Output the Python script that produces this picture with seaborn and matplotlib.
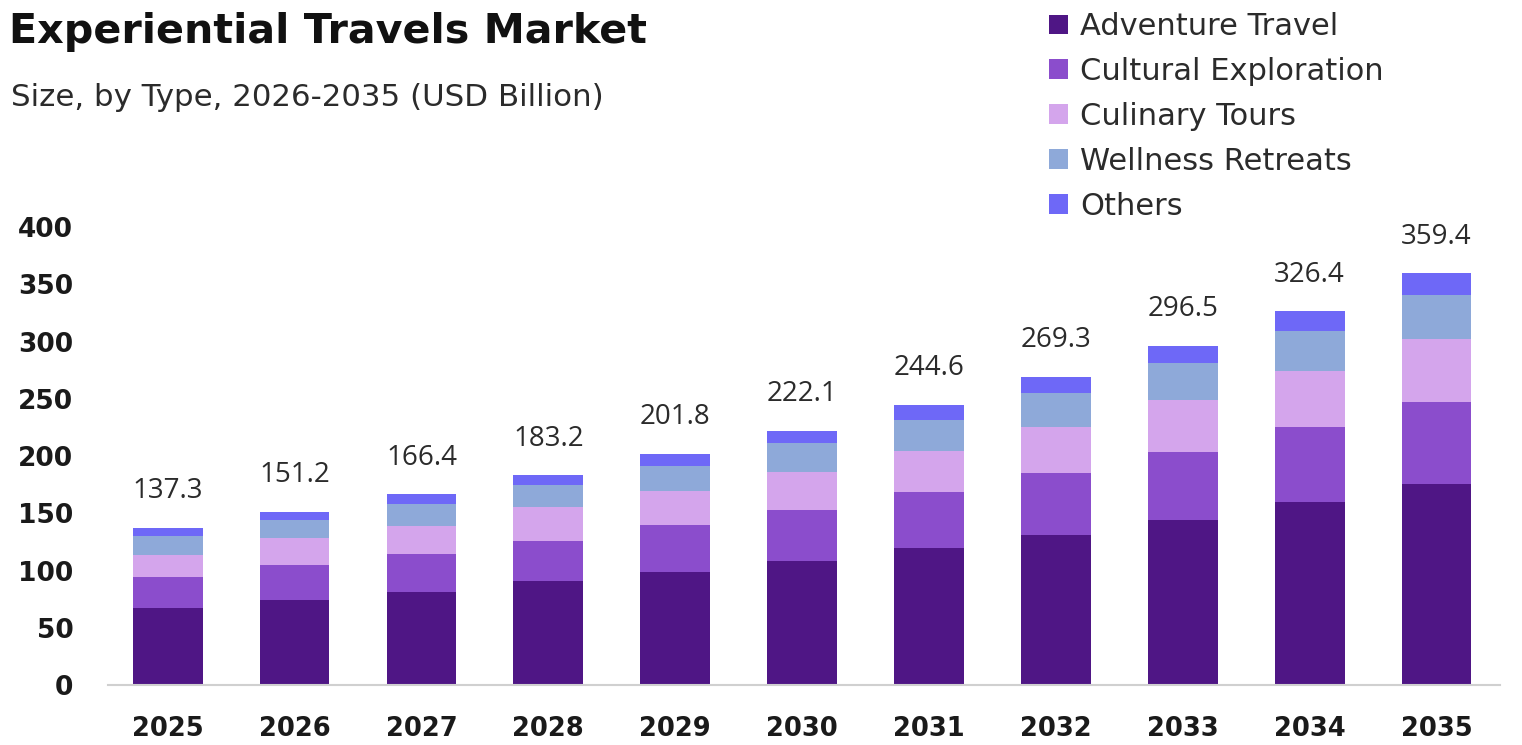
import matplotlib
matplotlib.use("Agg")
import matplotlib.pyplot as plt
from matplotlib.patches import Patch
import numpy as np
import pandas as pd
import seaborn as sns

# Market size by type (USD Billion)
years = ["2025", "2026", "2027", "2028", "2029", "2030",
         "2031", "2032", "2033", "2034", "2035"]
adventure_travel = [67.5, 74.0, 81.1, 90.5, 98.9, 108.4, 119.4, 130.9, 144.4, 160.0, 175.3]
cultural_exploration = [26.7, 30.8, 33.1, 35.3, 40.5, 44.6, 49.4, 54.3, 59.2, 65.4, 71.6]
culinary_tours = [19.6, 23.5, 24.9, 29.4, 29.9, 33.1, 35.7, 39.9, 44.9, 48.5, 55.0]
wellness_retreats = [16.7, 15.5, 19.1, 19.1, 22.3, 24.9, 27.1, 30.1, 33.0, 35.6, 38.6]
others = [6.8, 7.4, 8.2, 8.9, 10.2, 11.1, 13.0, 14.1, 15.0, 16.9, 18.9]

segments = ["Adventure Travel", "Cultural Exploration", "Culinary Tours",
            "Wellness Retreats", "Others"]
series = [adventure_travel, cultural_exploration, culinary_tours,
          wellness_retreats, others]
colors = ["#4f1685", "#8b4dcc", "#d4a5ec", "#8ea9d9", "#6e68f7"]
y_ticks = [0, 50, 100, 150, 200, 250, 300, 350, 400]

sns.set_theme(style="white")
plt.rcParams["font.family"] = ["DejaVu Sans"]

fig = plt.figure(figsize=(15.22, 7.45), dpi=100)
ax = fig.add_axes([0.071, 0.0805, 0.9145, 0.6148])

# Stacked bars: draw cumulative layers from the tallest down
df = pd.DataFrame({"year": years})
cum = np.zeros(len(years))
layers = []
for name, vals in zip(segments, series):
    cum = cum + np.array(vals)
    layers.append((name, cum.copy()))

for (name, top), col in reversed(list(zip(layers, colors))):
    d = df.assign(value=top)
    sns.barplot(data=d, x="year", y="value", color=col, width=0.55,
                saturation=1, ax=ax, linewidth=0, errorbar=None)

totals = layers[-1][1]
for i, t in enumerate(totals):
    ax.text(i, t + 32, f"{t:.1f}", ha="center", va="center",
            fontsize=20, color="#2b2b2b", family="Open Sans")

ax.set_xlim(-0.47, 10.5)
ax.set_ylim(0, 400)
ax.set_yticks(y_ticks)
ax.set_yticklabels([str(v) for v in y_ticks], fontsize=19, fontweight="bold",
                   color="#1a1a1a")
ax.tick_params(axis="y", length=0, pad=25)
ax.tick_params(axis="x", length=0, pad=22, labelsize=18.5, labelcolor="#1a1a1a")
for lbl in ax.get_xticklabels():
    lbl.set_fontweight("bold")
ax.set_xlabel("")
ax.set_ylabel("")
for s in ["top", "right", "left"]:
    ax.spines[s].set_visible(False)
ax.spines["bottom"].set_color("#d0d0d0")
ax.spines["bottom"].set_linewidth(1.5)
ax.grid(False)

fig.text(0.006, 0.942, "Experiential Travels Market", fontsize=29.7,
         fontweight="bold", color="#111111", ha="left", va="baseline")
fig.text(0.007, 0.858, "Size, by Type, 2026-2035 (USD Billion)", fontsize=22.2,
         color="#2b2b2b", ha="left", va="baseline")

handles = [Patch(facecolor=c, edgecolor="none") for c in colors]
fig.legend(handles, segments, loc="upper left",
           bbox_to_anchor=(0.681, 1.0), frameon=False, fontsize=22,
           handlelength=0.62, handleheight=0.62, handletextpad=0.4,
           labelspacing=0.52, borderaxespad=0, labelcolor="#2b2b2b")

fig.savefig("out.png", dpi=100, facecolor="white")
